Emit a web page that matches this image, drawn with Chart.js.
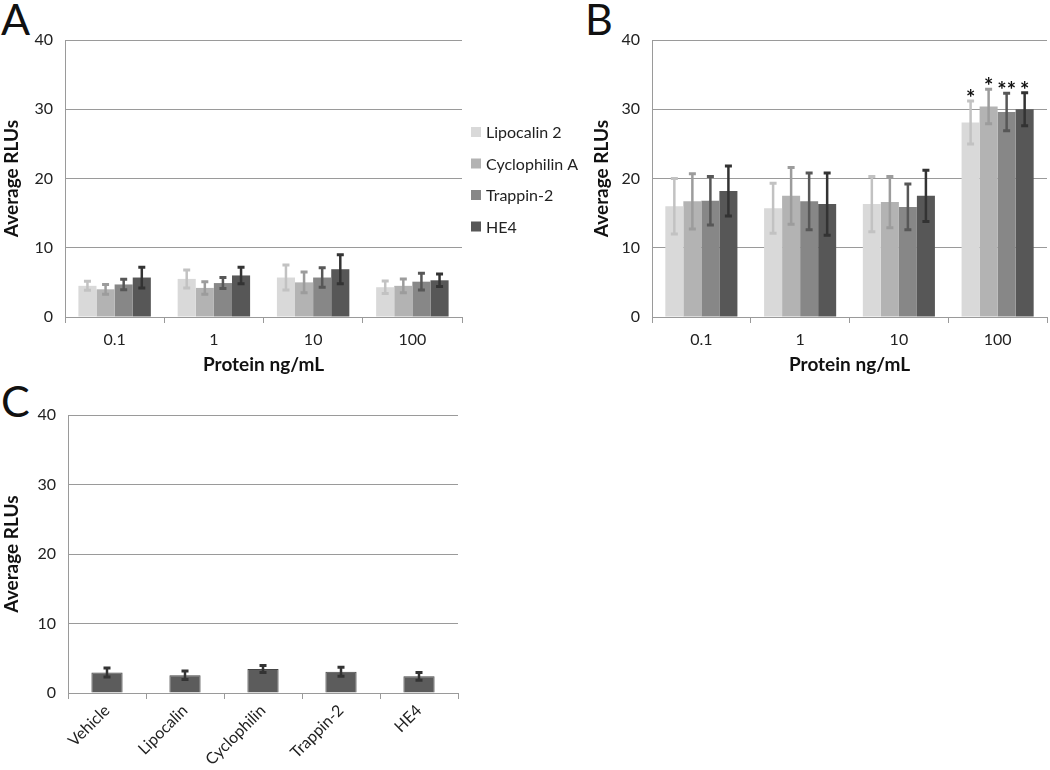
<!DOCTYPE html>
<html>
<head>
<meta charset="utf-8">
<script src="https://cdn.jsdelivr.net/npm/chart.js@4.4.1/dist/chart.umd.min.js"></script>
<style>
  body { margin: 0; background: #fff; width: 1050px; height: 770px; position: relative; overflow: hidden; }
  canvas { position: absolute; }
  .letter { position: absolute; font-family: Lato, "Liberation Sans", sans-serif; font-size: 43px; color: #111; line-height: 1; }
</style>
</head>
<body>
<div class="letter" style="left:1px;top:-3px">A</div>
<div class="letter" style="left:585px;top:-3px">B</div>
<div class="letter" style="left:1px;top:379px">C</div>
<canvas id="chartA" width="590" height="380" style="left:0;top:0"></canvas>
<canvas id="chartB" width="460" height="380" style="left:590px;top:0"></canvas>
<canvas id="chartC" width="470" height="390" style="left:0;top:380px"></canvas>
<script>
// data
const doses = ['0.1', '1', '10', '100'];
const seriesNames = ['Lipocalin 2', 'Cyclophilin A', 'Trappin-2', 'HE4'];
const fills = ['#d9d9d9', '#b3b3b3', '#878787', '#575757'];
const errColors = ['#c2c2c2', '#9c9c9c', '#575757', '#333333'];

// panel A
const aLipocalin = [4.5, 5.5, 5.7, 4.3];
const aCyclophilin = [4.0, 4.2, 5.0, 4.5];
const aTrappin = [4.7, 4.9, 5.7, 5.1];
const aHE4 = [5.7, 6.0, 6.9, 5.3];
const aLipocalinErr = [0.65, 1.3, 1.8, 0.9];
const aCyclophilinErr = [0.7, 0.9, 1.5, 1.0];
const aTrappinErr = [0.75, 0.8, 1.4, 1.2];
const aHE4Err = [1.5, 1.2, 2.1, 0.9];

// panel B
const bLipocalin = [16.0, 15.7, 16.3, 28.1];
const bCyclophilin = [16.7, 17.5, 16.6, 30.4];
const bTrappin = [16.8, 16.7, 15.9, 29.6];
const bHE4 = [18.2, 16.3, 17.5, 30.0];
const bLipocalinErr = [4.0, 3.6, 4.0, 3.1];
const bCyclophilinErr = [4.0, 4.1, 3.7, 2.5];
const bTrappinErr = [3.5, 4.1, 3.3, 2.7];
const bHE4Err = [3.6, 4.5, 3.7, 2.4];
const bStars = [['', '', '', '*'], ['', '', '', '*'], ['', '', '', '**'], ['', '', '', '*']];

// panel C
const treatments = ['Vehicle', 'Lipocalin', 'Cyclophilin', 'Trappin-2', 'HE4'];
const cValues = [2.95, 2.55, 3.45, 3.05, 2.4];
const cErr = [0.65, 0.6, 0.5, 0.65, 0.55];

const yTicks = [0, 10, 20, 30, 40];

const FONT = 'Lato, "Liberation Sans", sans-serif';
Chart.defaults.font.family = FONT;
Chart.defaults.color = '#222';

// error bars + star labels drawn through the y scale
const errorBars = {
  id: 'errorBars',
  afterDatasetsDraw(chart) {
    const ctx = chart.ctx, y = chart.scales.y;
    chart.data.datasets.forEach((ds, i) => {
      const meta = chart.getDatasetMeta(i);
      meta.data.forEach((bar, j) => {
        const v = ds.data[j], e = ds.errors[j];
        const top = y.getPixelForValue(v + e), bot = y.getPixelForValue(v - e);
        ctx.save();
        ctx.strokeStyle = ds.errorColor;
        ctx.lineWidth = 2.5;
        ctx.beginPath();
        ctx.moveTo(bar.x, top); ctx.lineTo(bar.x, bot);
        ctx.stroke();
        ctx.lineWidth = 3;
        ctx.beginPath();
        ctx.moveTo(bar.x - 3.5, top); ctx.lineTo(bar.x + 3.5, top);
        ctx.moveTo(bar.x - 3.5, bot); ctx.lineTo(bar.x + 3.5, bot);
        ctx.stroke();
        if (ds.stars && ds.stars[j]) {
          ctx.fillStyle = '#111';
          ctx.font = 'bold 22px ' + FONT;
          ctx.textAlign = 'center';
          ctx.textBaseline = 'alphabetic';
          ctx.fillText(ds.stars[j], bar.x, top + 5);
        }
        ctx.restore();
      });
    });
  }
};

// legend for panel A, sitting to the right of the plot area
const sideLegend = {
  id: 'sideLegend',
  afterDraw(chart, args, opts) {
    if (!opts.show) return;
    const ctx = chart.ctx;
    ctx.save();
    ctx.font = '16px ' + FONT;
    ctx.textBaseline = 'middle';
    chart.data.datasets.forEach((ds, i) => {
      const cy = opts.y + i * opts.step;
      ctx.fillStyle = ds.backgroundColor;
      ctx.fillRect(opts.x, cy - 5, 10, 10);
      ctx.fillStyle = '#222';
      ctx.fillText(ds.label, opts.x + 15, cy + 1);
    });
    ctx.restore();
  }
};

function scales(yWidth, xHeight, rotate) {
  return {
    x: {
      afterFit: s => { s.height = xHeight; },
      border: { color: '#9a9a9a', width: 1 },
      grid: { offset: true, drawOnChartArea: false, tickLength: 6, color: '#9a9a9a' },
      ticks: { font: { size: 16 }, color: '#222', maxRotation: rotate, minRotation: rotate, padding: rotate ? 2 : 7 },
      title: { display: !rotate, text: 'Protein ng/mL', font: { size: 19, weight: 'bold' }, color: '#111', padding: { top: 3 } }
    },
    y: {
      min: 0, max: 40,
      afterFit: s => { s.width = yWidth; },
      afterBuildTicks: s => { s.ticks = yTicks.map(v => ({ value: v })); },
      border: { color: '#9a9a9a', width: 1 },
      grid: { color: '#9a9a9a', drawTicks: false },
      ticks: { font: { size: 16 }, color: '#222', padding: 12 },
      title: { display: true, text: 'Average RLUs', font: { size: 19, weight: 'bold' }, color: '#111', padding: 0 }
    }
  };
}

function groupSets(vals, errs, stars) {
  return vals.map((d, i) => ({
    label: seriesNames[i],
    data: d,
    errors: errs[i],
    stars: stars ? stars[i] : null,
    backgroundColor: fills[i],
    errorColor: errColors[i],
    borderWidth: 0,
    categoryPercentage: 0.73,
    barPercentage: 1.0
  }));
}

new Chart(document.getElementById('chartA'), {
  type: 'bar',
  data: {
    labels: doses,
    datasets: groupSets([aLipocalin, aCyclophilin, aTrappin, aHE4],
      [aLipocalinErr, aCyclophilinErr, aTrappinErr, aHE4Err])
  },
  options: {
    responsive: false, animation: false,
    layout: { padding: { top: 40, right: 128, bottom: 0, left: 0 } },
    plugins: { legend: { display: false }, tooltip: { enabled: false },
      sideLegend: { show: true, x: 471, y: 132, step: 31.5 } },
    scales: scales(65, 63, 0)
  },
  plugins: [errorBars, sideLegend]
});

new Chart(document.getElementById('chartB'), {
  type: 'bar',
  data: {
    labels: doses,
    datasets: groupSets([bLipocalin, bCyclophilin, bTrappin, bHE4],
      [bLipocalinErr, bCyclophilinErr, bTrappinErr, bHE4Err], bStars)
  },
  options: {
    responsive: false, animation: false,
    layout: { padding: { top: 40, right: 3, bottom: 0, left: 0 } },
    plugins: { legend: { display: false }, tooltip: { enabled: false } },
    scales: scales(62, 63, 0)
  },
  plugins: [errorBars]
});

new Chart(document.getElementById('chartC'), {
  type: 'bar',
  data: {
    labels: treatments,
    datasets: [{
      label: 'RLU',
      data: cValues,
      errors: cErr,
      backgroundColor: '#5c5c5c',
      borderColor: '#454545',
      borderWidth: 1,
      errorColor: '#333333',
      categoryPercentage: 0.4,
      barPercentage: 1.0
    }]
  },
  options: {
    responsive: false, animation: false,
    layout: { padding: { top: 35, right: 12, bottom: 0, left: 0 } },
    plugins: { legend: { display: false }, tooltip: { enabled: false } },
    scales: scales(68, 77, 45)
  },
  plugins: [errorBars]
});
</script>
</body>
</html>
